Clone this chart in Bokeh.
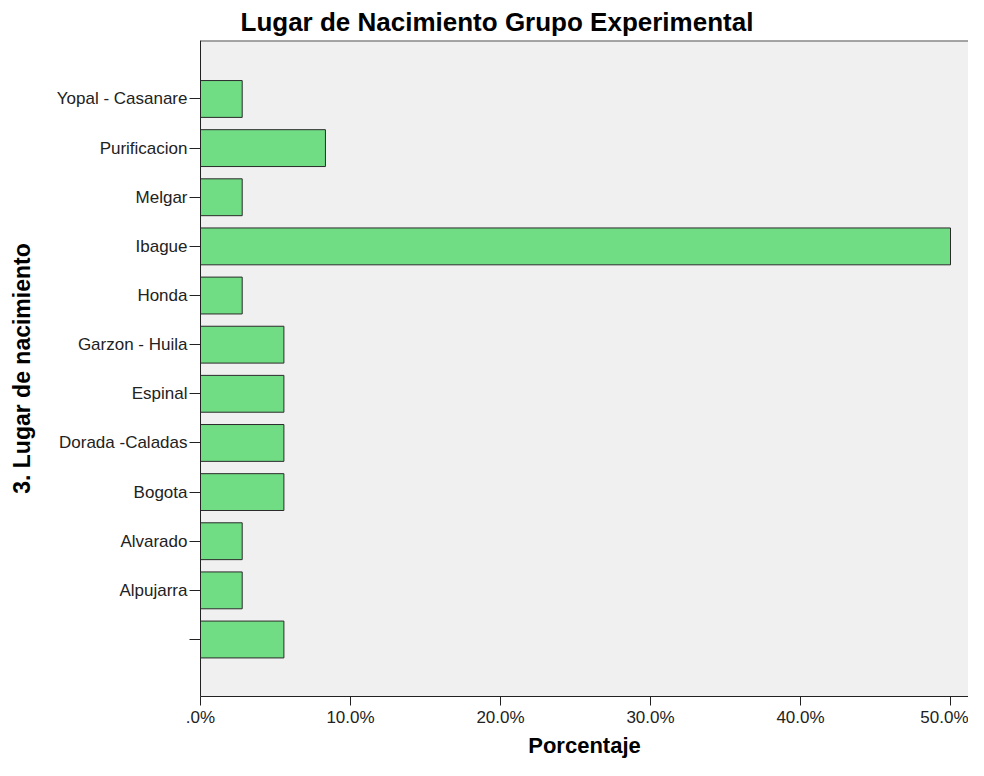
from bokeh.plotting import figure
from bokeh.models import Range1d, FixedTicker, Span
from bokeh.embed import file_html
from bokeh.resources import INLINE

# Data (bottom to top)
categories = ["", "Alpujarra", "Alvarado", "Bogota", "Dorada -Caladas", "Espinal",
              "Garzon - Huila", "Honda", "Ibague", "Melgar", "Purificacion",
              "Yopal - Casanare"]
percent = [5.56, 2.78, 2.78, 5.56, 5.56, 5.56, 5.56, 2.78, 50.0, 2.78, 8.33, 2.78]
x_ticks = [0, 10, 20, 30, 40, 50]
x_tick_labels = [".0%", "10.0%", "20.0%", "30.0%", "40.0%", "50.0%"]

positions = list(range(len(categories)))

FONT = "Liberation Sans"

p = figure(width=968, height=760, output_backend="svg", toolbar_location=None,
           x_range=Range1d(0, 51.2), y_range=Range1d(-1.16, 12.19),
           title="Lugar de Nacimiento Grupo Experimental",
           min_border_left=200, min_border_top=40, min_border_right=0,
           min_border_bottom=62)

p.background_fill_color = "#f0f0f0"
p.border_fill_color = "white"
p.outline_line_color = None
p.xgrid.visible = False
p.ygrid.visible = False

p.title.text_font = FONT
p.title.text_font_size = "26px"
p.title.text_font_style = "bold"
p.title.text_color = "#000000"
p.title.align = "left"
p.title.offset = 40
p.title.standoff = 8

p.hbar(y=positions, right=percent, left=0, height=0.75,
       fill_color="#70dc84", line_color="#2b2b2b", line_width=1)

top_line = Span(location=p.y_range.end, dimension="width",
                line_color="#555555", line_width=2)
p.add_layout(top_line)

# X axis
xa = p.xaxis[0]
xa.ticker = FixedTicker(ticks=x_ticks)
xa.major_label_overrides = {t: l for t, l in zip(x_ticks, x_tick_labels)}
xa.minor_tick_line_color = None
xa.major_tick_in = 0
xa.major_tick_out = 9
xa.major_label_standoff = 2
xa.axis_line_color = "#222222"
xa.major_tick_line_color = "#222222"
xa.major_label_text_font = FONT
xa.major_label_text_font_size = "17px"
xa.major_label_text_color = "#222222"
xa.axis_label = "Porcentaje"
xa.axis_label_text_font = FONT
xa.axis_label_text_font_size = "22px"
xa.axis_label_text_font_style = "bold"
xa.axis_label_text_color = "#000000"
xa.axis_label_standoff = 3

# Y axis
ya = p.yaxis[0]
ya.ticker = FixedTicker(ticks=positions)
ya.major_label_overrides = {i: c for i, c in zip(positions, categories)}
ya.minor_tick_line_color = None
ya.major_tick_in = 0
ya.major_tick_out = 11
ya.major_label_standoff = 2
ya.axis_line_color = "#222222"
ya.major_tick_line_color = "#222222"
ya.major_label_text_font = FONT
ya.major_label_text_font_size = "17px"
ya.major_label_text_color = "#222222"
ya.axis_label = "3. Lugar de nacimiento"
ya.axis_label_text_font = FONT
ya.axis_label_text_font_size = "23px"
ya.axis_label_text_font_style = "bold"
ya.axis_label_text_color = "#000000"
ya.axis_label_standoff = 19

open("out.html", "w").write(file_html(p, INLINE))
